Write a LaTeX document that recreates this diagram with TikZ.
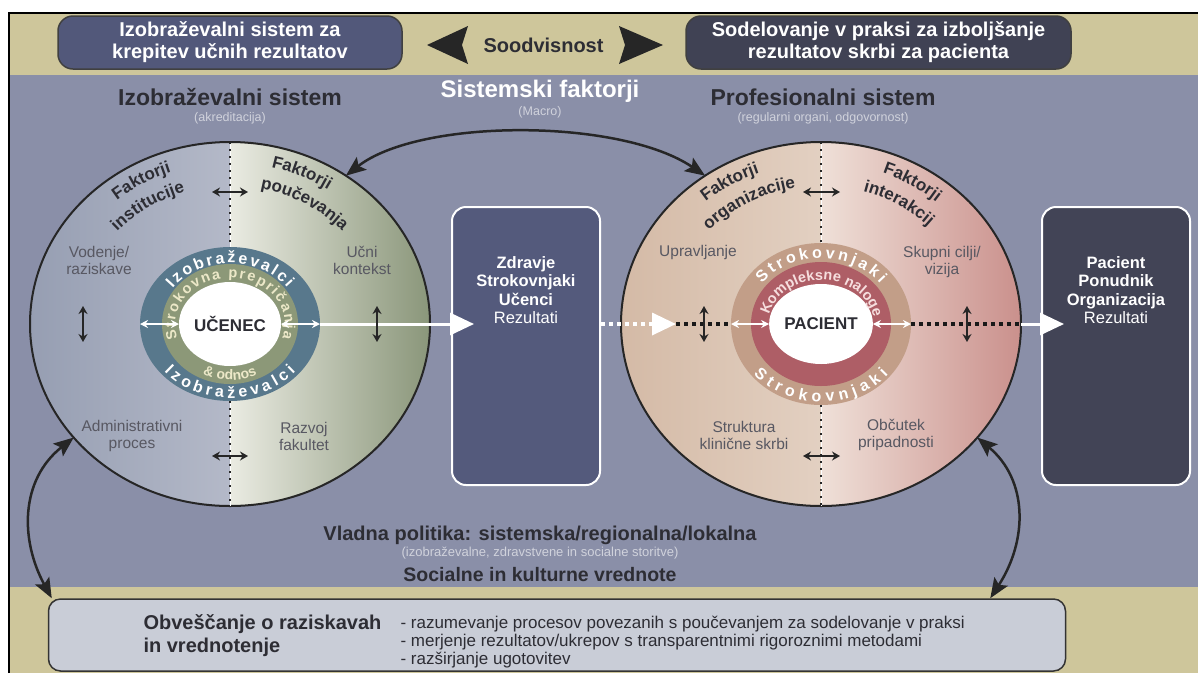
\documentclass[tikz,border=0pt]{standalone}
\usepackage{fontspec}
\setmainfont{Liberation Sans}
\usetikzlibrary{arrows.meta,shapes.geometric,decorations.text,calc}
\newcommand{\fsz}[2]{\fontsize{#1}{#2}\selectfont}
\definecolor{bgbeige}{RGB}{206,198,155}
\definecolor{bgblue}{RGB}{138,143,168}
\definecolor{tlbox}{RGB}{82,88,122}
\definecolor{trbox}{RGB}{64,66,84}
\definecolor{midbox}{RGB}{84,90,124}
\definecolor{rbox}{RGB}{66,68,86}
\definecolor{lcA}{RGB}{150,158,178}
\definecolor{lcB}{RGB}{210,212,222}
\definecolor{lcC}{RGB}{234,235,226}
\definecolor{lcD}{RGB}{138,150,122}
\definecolor{rcA}{RGB}{212,186,166}
\definecolor{rcB}{RGB}{241,230,221}
\definecolor{rcC}{RGB}{239,224,216}
\definecolor{rcD}{RGB}{202,144,140}
\definecolor{lblue}{RGB}{88,120,140}
\definecolor{lgreen}{RGB}{140,152,120}
\definecolor{rtan}{RGB}{194,158,136}
\definecolor{rred}{RGB}{174,94,102}
\definecolor{botbox}{RGB}{201,205,215}
\definecolor{darktxt}{RGB}{45,45,52}
\definecolor{graytxt}{RGB}{88,88,98}
\definecolor{subtxt}{RGB}{208,210,220}
\definecolor{cream}{RGB}{236,232,200}
\definecolor{pinktxt}{RGB}{246,222,222}
\begin{document}
\begin{tikzpicture}[x=1pt,y=1pt,
  topbox/.style={rectangle, rounded corners=15pt, draw=black!75, line width=1.5pt, text=white, font=\bfseries\fsz{20}{22}, align=center, inner sep=0pt, minimum height=53pt},
  bigc/.style={ellipse, draw=black!85, line width=2pt, inner sep=0pt, outer sep=0pt, minimum width=400pt, minimum height=364pt},
  ringnode/.style={ellipse, inner sep=0pt, outer sep=0pt},
  resbox/.style={rectangle, rounded corners=14pt, draw=white, line width=2pt, minimum width=148pt, minimum height=278pt, inner sep=0pt},
  boxtxt/.style={align=center, text=white, font=\fsz{16.5}{18.3}},
  lab/.style={align=center, text=graytxt, font=\fsz{15.5}{17}},
  head/.style={text=darktxt, font=\bfseries\fsz{23}{26}},
  subhead/.style={text=subtxt, font=\fsz{12.5}{14}},
  blk/.style={black!85, line width=1.6pt, {Stealth[length=8pt,width=9pt]}-{Stealth[length=8pt,width=9pt]}},
  wht/.style={white, line width=1.6pt, {Stealth[length=8pt,width=8pt]}-{Stealth[length=8pt,width=8pt]}},
  bigarr/.style={black!85, line width=2.5pt, {Stealth[length=20pt,width=16pt,inset=4pt]}-{Stealth[length=20pt,width=16pt,inset=4pt]}},
  bdots/.style={black!90, line width=3.5pt, dash pattern=on 4pt off 4pt},
  wdots/.style={white, line width=3.5pt, dash pattern=on 4pt off 4pt},
  divw/.style={white, line width=1pt},
  divd/.style={black!85, line width=2.4pt, dash pattern=on 2.4pt off 4.6pt},
  ringtxt/.style={decorate, decoration={text along path, text align=#1}},
]
\useasboundingbox (0,0) rectangle (1198,-673);
\fill[white] (0,0) rectangle (1198,-673);
\fill[bgbeige] (8,-12) rectangle (1198,-75);
\fill[bgblue] (8,-75) rectangle (1198,-587);
\fill[bgbeige] (8,-587) rectangle (1198,-673);
\draw[black, line width=2.5pt] (9,-673) -- (9,-13) -- (1198,-13);

% top band
\node[topbox, fill=tlbox, minimum width=344pt] (tl) at (230,-42.5) {Izobraževalni sistem za\\krepitev učnih rezultatov};
\node[topbox, fill=trbox, minimum width=385pt] (tr) at (878.5,-42.5) {Sodelovanje v praksi za izboljšanje\\rezultatov skrbi za pacienta};
\node[text=darktxt, font=\bfseries\fsz{20}{22}] (sood) at (543.5,-45) {Soodvisnost};
\fill[black!85] (468,-26) -- (427,-45) -- (468,-64) -- (462,-45) -- cycle;
\fill[black!85] (619,-26) -- (663,-45) -- (619,-64) -- (625,-45) -- cycle;

% headings
\node[head] (h1) at (230,-97) {Izobraževalni sistem};
\node[subhead] (h1s) at (230,-118) {(akreditacija)};
\node[head, text=white, font=\bfseries\fsz{24}{26}] (h2) at (540,-91) {Sistemski faktorji};
\node[subhead] (h2s) at (540,-112) {(Macro)};
\node[head] (h3) at (823,-97) {Profesionalni sistem};
\node[subhead] (h3s) at (823,-118) {(regularni organi, odgovornost)};

% big circles
\node[bigc, path picture={
  \shade[left color=lcA, right color=lcB] (path picture bounding box.south west) rectangle (path picture bounding box.north);
  \shade[left color=lcC, right color=lcD] (path picture bounding box.south) rectangle (path picture bounding box.north east);}] (lc) at (230,-324) {};
\node[bigc, path picture={
  \shade[left color=rcA, right color=rcB] (path picture bounding box.south west) rectangle (path picture bounding box.north);
  \shade[left color=rcC, right color=rcD] (path picture bounding box.south) rectangle (path picture bounding box.north east);}] (rc) at (821,-324) {};

% rings left
\node[ringnode, fill=lblue, minimum width=180pt, minimum height=154pt] (lring) at (230,-324) {};
\node[ringnode, fill=lgreen, minimum width=136pt, minimum height=120pt] (lgrn) at (230,-324) {};
\node[ringnode, fill=white, minimum width=102pt, minimum height=84pt, font=\bfseries\fsz{17}{17}, text=darktxt] (lwhite) at (230,-324) {UČENEC};
% rings right
\node[ringnode, fill=rtan, minimum width=180pt, minimum height=162pt] (rring) at (821,-324) {};
\node[ringnode, fill=rred, minimum width=140pt, minimum height=124pt] (rred) at (821,-324) {};
\node[ringnode, fill=white, minimum width=98pt, minimum height=80pt, font=\bfseries\fsz{17}{17}, text=darktxt] (rwhite) at (821,-324) {PACIENT};

% dividers
\draw[divw] (lc.north) -- (lring.north); \draw[divd] (lc.north) -- (lring.north);
\draw[divw] (lring.south) -- (lc.south); \draw[divd] (lring.south) -- (lc.south);
\draw[divw] (rc.north) -- (rring.north); \draw[divd] (rc.north) -- (rring.north);
\draw[divw] (rring.south) -- (rc.south); \draw[divd] (rring.south) -- (rc.south);

% ring texts left
\path[ringtxt=fit to path, decoration={text={|\bfseries\fsz{16}{16}\color{white}|Izobraževalci}}]
  ([shift={(230,-324)}]144:71 and 61) arc[start angle=144, end angle=36, x radius=71, y radius=61];
\path[ringtxt=fit to path, decoration={text={|\bfseries\fsz{14.5}{14.5}\color{cream}|Strokovna prepričanja}}]
  ([shift={(230,-324)}]198:55 and 46) arc[start angle=198, end angle=-18, x radius=55, y radius=46];
\path[ringtxt=center, decoration={text={|\bfseries\fsz{14}{14}\color{cream}|{\&} odnos}}]
  ([shift={(230,-324)}]225:63 and 56) arc[start angle=225, end angle=315, x radius=63, y radius=56];
\path[ringtxt=fit to path, decoration={text={|\bfseries\fsz{16}{16}\color{white}|Izobraževalci}}]
  ([shift={(230,-324)}]220:86 and 74) arc[start angle=220, end angle=320, x radius=86, y radius=74];
% ring texts right
\path[ringtxt=fit to path, decoration={text={|\bfseries\fsz{16}{16}\color{white}|Strokovnjaki}}]
  ([shift={(821,-324)}]142:75 and 66) arc[start angle=142, end angle=38, x radius=75, y radius=66];
\path[ringtxt=fit to path, decoration={text={|\bfseries\fsz{14.5}{14.5}\color{pinktxt}|Kompleksne naloge}}]
  ([shift={(821,-324)}]168:53 and 44) arc[start angle=168, end angle=12, x radius=53, y radius=44];
\path[ringtxt=fit to path, decoration={text={|\bfseries\fsz{16}{16}\color{white}|Strokovnjaki}}]
  ([shift={(821,-324)}]220:88 and 78) arc[start angle=220, end angle=320, x radius=88, y radius=78];

% factor labels along the big circles
\path[ringtxt=center, decoration={text={|\bfseries\fsz{17}{17}\color{darktxt}|Faktorji}}]
  ([shift={(230,-324)}]150:177 and 161) arc[start angle=150, end angle=90, x radius=177, y radius=161];
\path[ringtxt=center, decoration={text={|\bfseries\fsz{17}{17}\color{darktxt}|institucije}}]
  ([shift={(230,-324)}]154:152 and 138) arc[start angle=154, end angle=92, x radius=152, y radius=138];
\path[ringtxt=center, decoration={text={|\bfseries\fsz{17}{17}\color{darktxt}|Faktorji}}]
  ([shift={(230,-324)}]96:177 and 161) arc[start angle=96, end angle=36, x radius=177, y radius=161];
\path[ringtxt=center, decoration={text={|\bfseries\fsz{17}{17}\color{darktxt}|poučevanja}}]
  ([shift={(230,-324)}]92:152 and 138) arc[start angle=92, end angle=28, x radius=152, y radius=138];
\path[ringtxt=center, decoration={text={|\bfseries\fsz{17}{17}\color{darktxt}|Faktorji}}]
  ([shift={(821,-324)}]151:177 and 161) arc[start angle=151, end angle=91, x radius=177, y radius=161];
\path[ringtxt=center, decoration={text={|\bfseries\fsz{17}{17}\color{darktxt}|organizacije}}]
  ([shift={(821,-324)}]153:152 and 138) arc[start angle=153, end angle=85, x radius=152, y radius=138];
\path[ringtxt=center, decoration={text={|\bfseries\fsz{17}{17}\color{darktxt}|Faktorji}}]
  ([shift={(821,-324)}]89:177 and 161) arc[start angle=89, end angle=29, x radius=177, y radius=161];
\path[ringtxt=center, decoration={text={|\bfseries\fsz{17}{17}\color{darktxt}|interakcij}}]
  ([shift={(821,-324)}]90:152 and 138) arc[start angle=90, end angle=28, x radius=152, y radius=138];

% circle labels
\node[lab] (vod) at (99,-260) {Vodenje/\\raziskave};
\node[lab] (ucn) at (362,-260) {Učni\\kontekst};
\node[lab] (adm) at (132,-436) {Administrativni\\proces};
\node[lab] (raz) at (304,-436) {Razvoj\\fakultet};
\node[lab] (upr) at (698,-252) {Upravljanje};
\node[lab] (sku) at (942,-262) {Skupni cilji/\\vizija};
\node[lab] (str) at (744,-435) {Struktura\\klinične skrbi};
\node[lab] (obc) at (896,-435) {Občutek\\pripadnosti};

% result boxes
\node[resbox, fill=midbox] (mb) at (526,-346) {};
\node[boxtxt] (mbt) at (526,-290) {\textbf{Zdravje}\\\textbf{Strokovnjaki}\\\textbf{Učenci}\\Rezultati};
\node[resbox, fill=rbox] (rb) at (1116,-346) {};
\node[boxtxt] (rbt) at (1116,-290) {\textbf{Pacient}\\\textbf{Ponudnik}\\\textbf{Organizacija}\\Rezultati};

% horizontal flow
\coordinate (mbin) at ($(lring.east -| mb.west)+(23,0)$);
\coordinate (mbout) at (lring.east -| mb.east);
\coordinate (wtip) at (676,-324);
\coordinate (rbin) at ($(rring.east -| rb.west)+(23,0)$);
\draw[white, line width=3pt, -{Triangle[length=24pt,width=22pt]}] (lring.east) -- (mbin);
\draw[wdots, -{Triangle[length=24pt,width=22pt]}] (mbout) -- (wtip);
\draw[bdots] (wtip) -- (rring.west);
\draw[bdots] (rring.east) -- (rc.east);
\draw[white, line width=3pt, -{Triangle[length=24pt,width=22pt]}] (rc.east) -- (rbin);
\draw[wht] (lring.west) -- (lwhite.west);
\draw[wht] (lwhite.east) -- (lring.east);
\draw[wht] (rring.west) -- (rwhite.west);
\draw[wht] (rwhite.east) -- (rring.east);

% small black arrows
\draw[blk] (83,-306) -- (83,-342);
\draw[blk] (377,-306) -- (377,-342);
\draw[blk] (704,-306) -- (704,-342);
\draw[blk] (967,-306) -- (967,-342);
\draw[blk] (212,-192) -- (248,-192);
\draw[blk] (212,-456) -- (248,-456);
\draw[blk] (803,-192) -- (840,-192);
\draw[blk] (803,-456) -- (840,-456);

% bottom texts
\node[text=darktxt, font=\bfseries\fsz{20}{22}] (vlad) at (540,-535) {Vladna politika: sistemska/regionalna/lokalna};
\node[text=subtxt, font=\fsz{13}{15}] (vlads) at (540,-553) {(izobraževalne, zdravstvene in socialne storitve)};
\node[text=darktxt, font=\bfseries\fsz{19.5}{22}] (soc) at (540,-575) {Socialne in kulturne vrednote};

% bottom box
\node[rectangle, rounded corners=12pt, draw=black!80, line width=1.5pt, fill=botbox, minimum width=1017pt, minimum height=72pt, inner sep=0pt] (bb) at (557,-635) {};
\node[anchor=west, align=left, text=darktxt, font=\bfseries\fsz{20}{23}] (bbt) at (140,-636) {Obveščanje o raziskavah\\in vrednotenje};
\node[anchor=west, align=left, text=darktxt, font=\fsz{17}{18}] (bbl) at (397,-642) {- razumevanje procesov povezanih s poučevanjem za sodelovanje v praksi\\- merjenje rezultatov/ukrepov s transparentnimi rigoroznimi metodami\\- razširjanje ugotovitev};

% curved arrows
\coordinate (bbl1) at ($(bb.north west)+(4,0)$);
\coordinate (bbr1) at ($(bb.north east)+(-76,0)$);
\draw[bigarr] (lc.52) .. controls (420,-118) and (620,-118) .. (rc.128);
\draw[bigarr] (lc.216) .. controls (20,-480) and (20,-540) .. (bbl1);
\draw[bigarr] (rc.324) .. controls (1028,-480) and (1028,-540) .. (bbr1);
\end{tikzpicture}
\end{document}
